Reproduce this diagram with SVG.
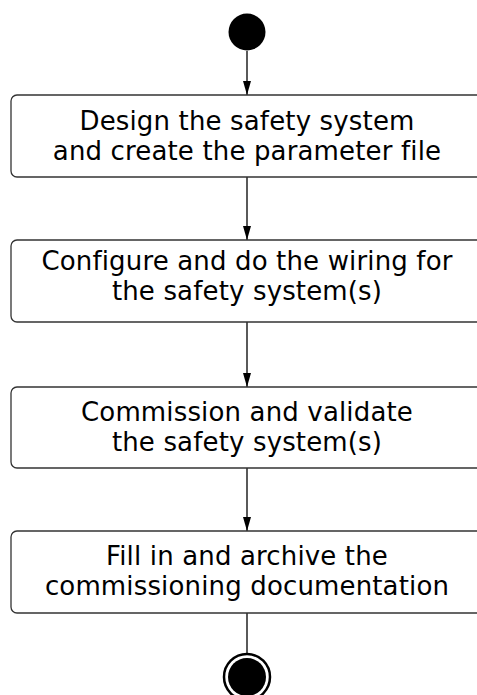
<svg xmlns="http://www.w3.org/2000/svg" width="477" height="695" viewBox="0 0 477 695">
<style>
.box{fill:#fff;stroke:#333;stroke-width:1.3}
.t{font-family:"DejaVu Sans",Verdana,sans-serif;font-size:26px;letter-spacing:0.15px;fill:#000;text-anchor:middle}
.c{stroke:#000;stroke-width:1.3;fill:none}
</style>
<defs>
<marker id="ah" markerWidth="14" markerHeight="8" refX="14" refY="4" orient="auto" markerUnits="userSpaceOnUse" viewBox="0 0 14 8">
<path d="M0,0 L14,4 L0,8 Z" fill="#000"/>
</marker>
</defs>
<rect width="477" height="695" fill="#fff"/>
<g id="connectors">
<line class="c" x1="247" y1="51" x2="247" y2="95" marker-end="url(#ah)"/>
<line class="c" x1="247" y1="177" x2="247" y2="240" marker-end="url(#ah)"/>
<line class="c" x1="247" y1="322" x2="247" y2="387" marker-end="url(#ah)"/>
<line class="c" x1="247" y1="468" x2="247" y2="531" marker-end="url(#ah)"/>
<line class="c" x1="247" y1="613" x2="247" y2="653"/>
</g>
<g id="start"><circle cx="247" cy="32" r="18.5" fill="#000"/></g>
<g id="n1">
<rect class="box" x="11" y="95" width="472" height="82" rx="6"/>
<text class="t" x="247" y="130">Design the safety system</text>
<text class="t" x="247" y="160">and create the parameter file</text>
</g>
<g id="n2">
<rect class="box" x="11" y="240" width="472" height="82" rx="6"/>
<text class="t" x="247" y="270">Configure and do the wiring for</text>
<text class="t" x="247" y="300">the safety system(s)</text>
</g>
<g id="n3">
<rect class="box" x="11" y="387" width="472" height="81" rx="6"/>
<text class="t" x="247" y="421">Commission and validate</text>
<text class="t" x="247" y="451">the safety system(s)</text>
</g>
<g id="n4">
<rect class="box" x="11" y="531" width="472" height="82" rx="6"/>
<text class="t" x="247" y="565">Fill in and archive the</text>
<text class="t" x="247" y="595">commissioning documentation</text>
</g>
<g id="end">
<circle cx="247" cy="677" r="23" fill="#fff" stroke="#000" stroke-width="2.5"/>
<circle cx="247" cy="677" r="19" fill="#000"/>
</g>
</svg>
